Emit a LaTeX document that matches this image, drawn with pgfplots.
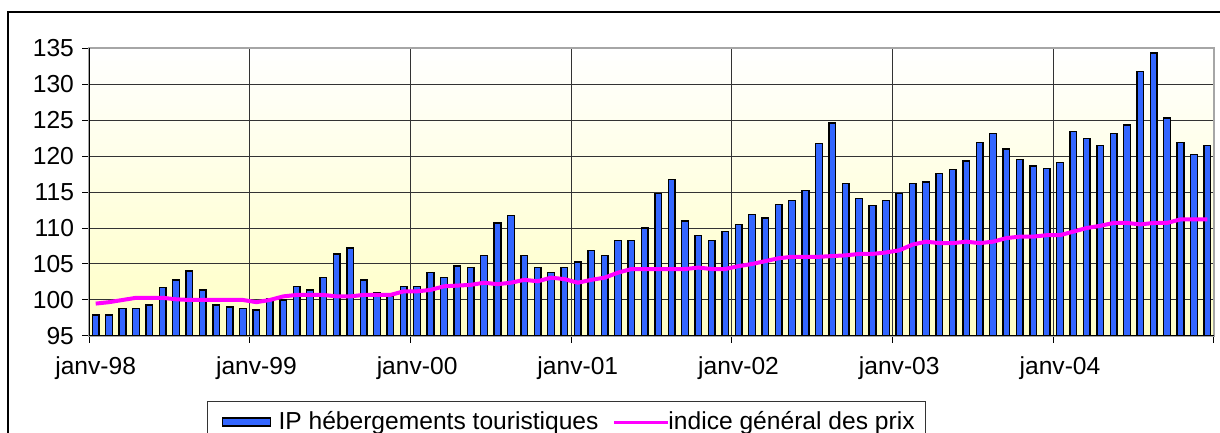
\documentclass[border=0pt]{standalone}
\usepackage{fontspec}
\setmainfont{Liberation Sans}
\usepackage{pgfplots}
\usepackage{pgfplotstable}
\pgfplotsset{compat=1.18}
\definecolor{barblue}{RGB}{51,102,255}
\definecolor{bgyellow}{RGB}{255,255,196}
\definecolor{mag}{RGB}{255,0,255}
\pgfplotstableread{
x ip ipc
0 97.9 99.5
1 97.9 99.7
2 98.8 100.0
3 98.8 100.3
4 99.3 100.3
5 101.7 100.3
6 102.8 100.1
7 104.0 100.0
8 101.4 100.0
9 99.3 100.0
10 99.0 100.0
11 98.8 100.0
12 98.6 99.7
13 100.2 100.0
14 100.0 100.5
15 101.9 100.7
16 101.4 100.7
17 103.1 100.7
18 106.4 100.5
19 107.2 100.5
20 102.8 100.7
21 101.0 100.7
22 100.5 100.7
23 101.9 101.2
24 101.9 101.2
25 103.8 101.4
26 103.1 101.9
27 104.7 102.0
28 104.5 102.1
29 106.2 102.4
30 110.7 102.2
31 111.7 102.4
32 106.2 102.8
33 104.5 102.6
34 103.8 103.1
35 104.5 102.9
36 105.3 102.4
37 106.9 102.8
38 106.2 103.1
39 108.3 103.8
40 108.3 104.3
41 110.0 104.3
42 114.8 104.3
43 116.7 104.3
44 111.0 104.3
45 109.0 104.5
46 108.3 104.3
47 109.5 104.3
48 110.5 104.7
49 111.9 105.0
50 111.4 105.4
51 113.3 105.8
52 113.8 106.0
53 115.2 106.0
54 121.7 106.0
55 124.6 106.1
56 116.2 106.2
57 114.1 106.4
58 113.1 106.4
59 113.8 106.6
60 114.8 106.9
61 116.2 107.7
62 116.4 108.1
63 117.6 107.9
64 118.1 107.9
65 119.3 108.1
66 121.9 107.9
67 123.1 108.1
68 121.0 108.6
69 119.5 108.8
70 118.6 108.8
71 118.3 109.0
72 119.1 109.0
73 123.4 109.5
74 122.4 110.0
75 121.5 110.3
76 123.1 110.7
77 124.3 110.7
78 131.7 110.5
79 134.3 110.7
80 125.3 110.7
81 121.9 111.2
82 120.2 111.2
83 121.5 111.2
}\data

\begin{document}
\begin{tikzpicture}[x=1pt,y=1pt]
\draw[black, line width=0.6pt] (4,210.5) rectangle (640,-20);
\begin{axis}[
  at={(44.5pt,48.5pt)}, anchor=south west,
  scale only axis, width=562.5pt, height=144pt,
  xmin=-0.5, xmax=83.5, ymin=95, ymax=135,
  ytick={95,100,...,135},
  xtick={-0.5,11.5,...,83.5}, xticklabels={},
  extra x ticks={0,12,24,36,48,60,72},
  extra x tick labels={janv-98,janv-99,janv-00,janv-01,janv-02,janv-03,janv-04},
  extra x tick style={grid=none, major tick length=0pt},
  xticklabel style={yshift=-7pt},
  yticklabel style={xshift=-0.5pt},
  xmajorgrids, ymajorgrids,
  grid style={black!80, line width=0.5pt},
  tick align=outside, major tick length=3.5pt,
  xtick pos=bottom, ytick pos=left,
  tick style={black, line width=0.5pt},
  axis line style={gray!70, line width=0.8pt},
  axis background/.style={top color=white, bottom color=bgyellow},
  tick label style={font=\fontsize{12.3pt}{14pt}\selectfont},
  /pgf/number format/assume math mode=true,
  legend columns=2,
  legend style={
    at={(axis description cs:0.1049,-0.2257)}, anchor=north west,
    draw=black!80, line width=0.5pt, fill=white,
    font=\fontsize{12.3pt}{14pt}\selectfont,
    inner xsep=3.5pt, inner ysep=3pt,
    /tikz/every even column/.append style={column sep=6pt}
  },
  legend cell align=left,
]
\addplot[ybar, bar width=0.5, fill=barblue, draw=black, line width=0.7pt,
  legend image code/.code={\path[draw=none, fill=none] (0pt,-2pt) rectangle (30pt,2pt);
    \draw[fill=barblue, draw=black, line width=0.6pt] (4pt,-2pt) rectangle (28pt,2pt);}]
  table[x=x, y=ip] {\data};
\addlegendentry{IP hébergements touristiques}
\addplot[mag, line width=2pt, sharp plot, no marks,
  legend image code/.code={\path[draw=none, fill=none] (0pt,-1pt) rectangle (25pt,1pt);
    \draw[mag, line width=1.5pt, overlay] (0pt,0pt) -- (27pt,0pt);}]
  table[x=x, y=ipc] {\data};
\addlegendentry{indice général des prix}
\draw[black, line width=0.7pt] (rel axis cs:0,1) -- (rel axis cs:0,0) -- (rel axis cs:1,0);
\end{axis}
\pgfresetboundingbox
\path[use as bounding box] (0,0) rectangle (610,216.5);
\end{tikzpicture}
\end{document}
